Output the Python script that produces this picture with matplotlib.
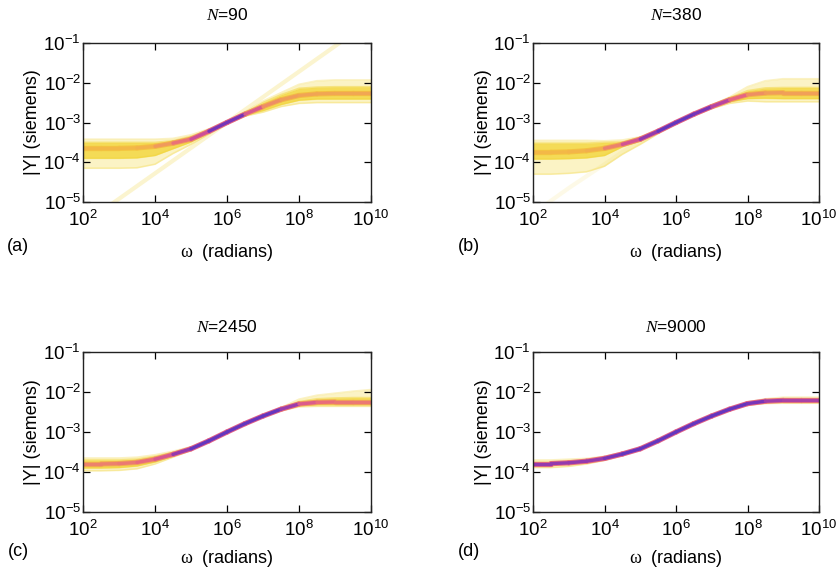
import numpy as np
import matplotlib
matplotlib.use("Agg")
import matplotlib.pyplot as plt
from matplotlib.collections import LineCollection
from matplotlib.colors import LinearSegmentedColormap
from matplotlib.ticker import FixedLocator, NullLocator

plt.rcParams['font.family'] = ['Liberation Sans', 'DejaVu Sans']
plt.rcParams['mathtext.fontset'] = 'custom'
plt.rcParams['mathtext.rm'] = 'Liberation Serif'
plt.rcParams['mathtext.it'] = 'Liberation Serif:italic'
plt.rcParams['xtick.direction'] = 'in'
plt.rcParams['ytick.direction'] = 'in'

# angular frequency grid (half decades)
omega = [1e2, 3.16e2, 1e3, 3.16e3, 1e4, 3.16e4, 1e5, 3.16e5, 1e6,
         3.16e6, 1e7, 3.16e7, 1e8, 3.16e8, 1e9, 3.16e9, 1e10]

# |Y|, in decades (log10 siemens)
# median curve, dense core of the ensemble, faint outer edge
a_mid     = [-3.65, -3.65, -3.65, -3.64, -3.60, -3.52, -3.42, -3.22, -3.00, -2.79, -2.60, -2.43, -2.32, -2.28, -2.27, -2.27, -2.27]
a_core_lo = [-3.90, -3.90, -3.90, -3.89, -3.83, -3.66, -3.49, -3.255, -3.02, -2.82, -2.70, -2.55, -2.44, -2.41, -2.41, -2.41, -2.41]
a_core_hi = [-3.50, -3.50, -3.50, -3.50, -3.50, -3.46, -3.35, -3.19, -2.985, -2.755, -2.50, -2.30, -2.14, -2.11, -2.10, -2.10, -2.10]
a_out_lo  = [-4.15, -4.15, -4.15, -4.14, -4.05, -3.78, -3.55, -3.29, -3.04, -2.84, -2.74, -2.60, -2.52, -2.50, -2.50, -2.50, -2.50]
a_out_hi  = [-3.42, -3.42, -3.42, -3.42, -3.42, -3.40, -3.31, -3.16, -2.96, -2.73, -2.46, -2.25, -2.04, -1.95, -1.93, -1.93, -1.93]
a_stray   = [-5.56, -5.24, -4.92, -4.60, -4.28, -3.96, -3.64, -3.32, -3.00, -2.68, -2.36, -2.04, -1.72, -1.40, -1.08, -0.76, -0.44]

b_mid     = [-3.75, -3.75, -3.74, -3.71, -3.65, -3.55, -3.42, -3.22, -3.00, -2.79, -2.60, -2.43, -2.30, -2.26, -2.25, -2.25, -2.25]
b_core_lo = [-3.92, -3.92, -3.91, -3.89, -3.83, -3.61, -3.465, -3.24, -3.02, -2.81, -2.63, -2.48, -2.40, -2.39, -2.40, -2.40, -2.40]
b_core_hi = [-3.52, -3.52, -3.52, -3.52, -3.50, -3.49, -3.375, -3.20, -2.98, -2.77, -2.57, -2.38, -2.20, -2.13, -2.12, -2.12, -2.12]
b_out_lo  = [-4.30, -4.30, -4.28, -4.24, -4.10, -3.80, -3.55, -3.28, -3.04, -2.83, -2.65, -2.52, -2.46, -2.48, -2.48, -2.48, -2.48]
b_out_hi  = [-3.45, -3.45, -3.45, -3.45, -3.46, -3.44, -3.36, -3.18, -2.97, -2.76, -2.56, -2.36, -2.10, -1.95, -1.90, -1.90, -1.90]
b_stray   = [-5.30, -4.97, -4.65, -4.35, -4.05, -3.74, -3.48, -3.24, -3.01, -2.80, -2.61, -2.44, -2.31, -2.27, -2.26, -2.26, -2.26]

c_mid     = [-3.80, -3.80, -3.79, -3.76, -3.68, -3.56, -3.42, -3.22, -3.00, -2.79, -2.60, -2.43, -2.30, -2.26, -2.25, -2.25, -2.25]
c_core_lo = [-3.90, -3.90, -3.89, -3.85, -3.75, -3.60, -3.44, -3.24, -3.02, -2.81, -2.62, -2.45, -2.34, -2.32, -2.32, -2.32, -2.32]
c_core_hi = [-3.70, -3.70, -3.70, -3.68, -3.61, -3.51, -3.40, -3.20, -2.98, -2.77, -2.58, -2.41, -2.24, -2.17, -2.15, -2.14, -2.14]
c_out_lo  = [-3.97, -3.97, -3.96, -3.92, -3.80, -3.63, -3.46, -3.25, -3.03, -2.82, -2.63, -2.47, -2.37, -2.36, -2.36, -2.36, -2.36]
c_out_hi  = [-3.65, -3.65, -3.65, -3.63, -3.57, -3.48, -3.37, -3.19, -2.97, -2.76, -2.57, -2.39, -2.18, -2.08, -2.03, -1.98, -1.94]

d_mid     = [-3.79, -3.79, -3.77, -3.73, -3.66, -3.55, -3.42, -3.22, -3.00, -2.79, -2.60, -2.43, -2.29, -2.23, -2.21, -2.21, -2.21]
d_core_lo = [-3.82, -3.82, -3.80, -3.76, -3.69, -3.57, -3.44, -3.24, -3.02, -2.81, -2.62, -2.45, -2.31, -2.26, -2.245, -2.245, -2.245]
d_core_hi = [-3.76, -3.76, -3.74, -3.70, -3.63, -3.53, -3.40, -3.20, -2.98, -2.77, -2.58, -2.41, -2.27, -2.20, -2.175, -2.175, -2.175]
d_out_lo  = [-3.89, -3.89, -3.86, -3.80, -3.71, -3.59, -3.45, -3.24, -3.02, -2.81, -2.62, -2.46, -2.33, -2.29, -2.28, -2.28, -2.28]
d_out_hi  = [-3.70, -3.70, -3.68, -3.66, -3.61, -3.51, -3.39, -3.20, -2.98, -2.77, -2.58, -2.40, -2.25, -2.17, -2.13, -2.13, -2.13]

panel_labels = ["(a)", "(b)", "(c)", "(d)"]
sample_sizes = [90, 380, 2450, 9000]

xticks = [1e2, 1e4, 1e6, 1e8, 1e10]
yticks = [1e-5, 1e-4, 1e-3, 1e-2, 1e-1]

# low density -> yellow, high density -> blue
dens_cmap = LinearSegmentedColormap.from_list(
    "dens", ["#f4d43c", "#f4bf42", "#f09a5c", "#e8687f", "#c94a9c", "#7e34b6", "#4a39c6"])


def draw_panel(ax, mid, core_lo, core_hi, out_lo, out_hi, stray=None, stray_alpha=0.3):
    w = np.array(omega)
    ax.fill_between(w, 10.0**np.array(out_lo), 10.0**np.array(out_hi),
                    color="#f7e680", alpha=0.45, lw=0)
    ax.fill_between(w, 10.0**np.array(core_lo), 10.0**np.array(core_hi),
                    color="#f3d63a", alpha=0.8, lw=0)
    # a few visible member curves at the edges
    for edge, al in [(out_lo, 0.3), (out_hi, 0.3), (core_lo, 0.5), (core_hi, 0.5)]:
        ax.plot(w, 10.0**np.array(edge), color="#f2d53a", alpha=al, lw=1.2)
    if stray is not None:
        ax.plot(w, 10.0**np.array(stray), color="#f3dd60", alpha=stray_alpha, lw=3)

    # colour of the median by how tight the ensemble is
    width = np.maximum(np.array(core_hi) - np.array(core_lo), 0.03)
    dens = np.clip(1 - np.log10(width / 0.03) / 1.4, 0, 1)
    y = 10.0**np.array(mid)
    pts = np.column_stack([w, y])
    segs = np.stack([pts[:-1], pts[1:]], axis=1)
    dseg = 0.5 * (dens[:-1] + dens[1:])
    ax.add_collection(LineCollection(segs, colors=dens_cmap(0.6 * dseg), lw=3.8, capstyle="round"))
    ax.add_collection(LineCollection(segs, colors=dens_cmap(dseg), lw=2.4, capstyle="round"))

    ax.set_xscale("log")
    ax.set_yscale("log")
    ax.set_xlim(1e2, 1e10)
    ax.set_ylim(1e-5, 1e-1)
    ax.xaxis.set_major_locator(FixedLocator(xticks))
    ax.yaxis.set_major_locator(FixedLocator(yticks))
    ax.xaxis.set_minor_locator(NullLocator())
    ax.yaxis.set_minor_locator(NullLocator())
    ax.tick_params(which="both", top=True, right=True, length=5, width=0.9, labelsize=13.5)
    ax.tick_params(axis="x", pad=6)
    ax.tick_params(axis="y", pad=1.5)
    for s in ax.spines.values():
        s.set_linewidth(1.0)
        s.set_color("#222222")


fig = plt.figure(figsize=(8.4, 5.71), dpi=100)
W, H = 840.0, 571.0
rects = [[83 / W, 1 - 202 / H, 288 / W, 159 / H],
         [533 / W, 1 - 202 / H, 286 / W, 159 / H],
         [83 / W, 1 - 512 / H, 288 / W, 160 / H],
         [533 / W, 1 - 512 / H, 286 / W, 160 / H]]
axes = [fig.add_axes(r) for r in rects]

draw_panel(axes[0], a_mid, a_core_lo, a_core_hi, a_out_lo, a_out_hi, a_stray, 0.3)
draw_panel(axes[1], b_mid, b_core_lo, b_core_hi, b_out_lo, b_out_hi, b_stray, 0.15)
draw_panel(axes[2], c_mid, c_core_lo, c_core_hi, c_out_lo, c_out_hi)
draw_panel(axes[3], d_mid, d_core_lo, d_core_hi, d_out_lo, d_out_hi)

for i, ax in enumerate(axes):
    top = i < 2
    ax.text(0.5, 1.176 if top else 1.156, "$N$=%d" % sample_sizes[i],
            transform=ax.transAxes, ha="center", va="center", fontsize=12.5)
    ax.text(0.5, -0.32 if top else -0.29, r"$\mathrm{\omega}$  (radians)", transform=ax.transAxes,
            ha="center", va="center", fontsize=13)
    ax.text(-0.174, 0.5, "|Y| (siemens)", transform=ax.transAxes, rotation=90,
            ha="center", va="center", fontsize=13)
    ax.text(-0.225, -0.283 if top else -0.25, panel_labels[i], transform=ax.transAxes,
            ha="center", va="center", fontsize=13)

fig.savefig("out.png", dpi=100)
